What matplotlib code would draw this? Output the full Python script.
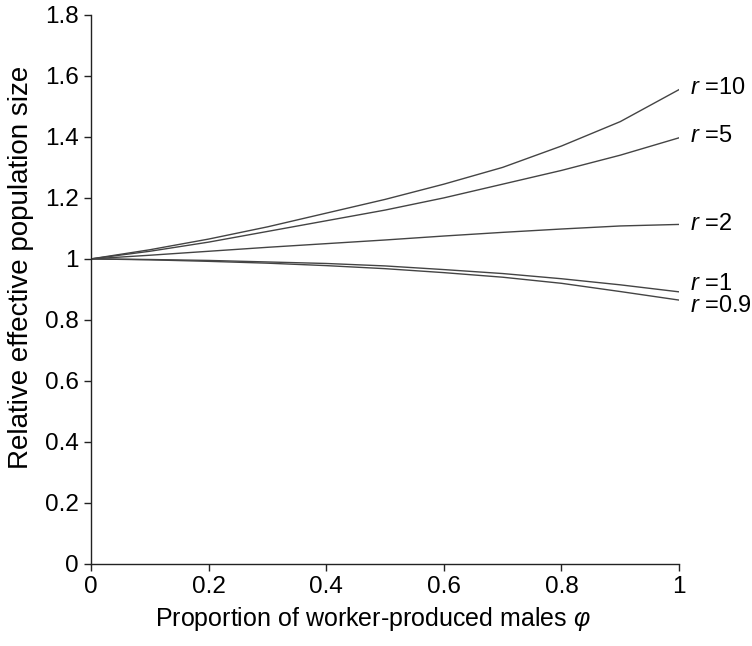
import matplotlib
matplotlib.use("Agg")
import matplotlib.pyplot as plt
from matplotlib.ticker import FuncFormatter

plt.rcParams['font.family'] = ['Liberation Sans', 'DejaVu Sans']
plt.rcParams['mathtext.fontset'] = 'custom'
plt.rcParams['mathtext.rm'] = 'Liberation Sans'
plt.rcParams['mathtext.it'] = 'Liberation Sans:italic'

# proportion of worker-produced males
phi = [0, 0.1, 0.2, 0.3, 0.4, 0.5, 0.6, 0.7, 0.8, 0.9, 1.0]

r10 = [1, 1.03, 1.065, 1.105, 1.15, 1.195, 1.245, 1.30, 1.37, 1.45, 1.555]
r5 = [1, 1.025, 1.055, 1.09, 1.125, 1.16, 1.20, 1.245, 1.29, 1.34, 1.397]
r2 = [1, 1.012, 1.025, 1.038, 1.05, 1.062, 1.075, 1.087, 1.098, 1.108, 1.113]
r1 = [1, 0.998, 0.995, 0.99, 0.985, 0.977, 0.965, 0.952, 0.935, 0.915, 0.892]
r09 = [1, 0.997, 0.992, 0.986, 0.978, 0.968, 0.955, 0.94, 0.92, 0.893, 0.865]

series = [("10", r10, 1), ("5", r5, 1), ("2", r2, 0), ("1", r1, 6), ("0.9", r09, -4)]

fig = plt.figure(figsize=(7.52, 6.46), dpi=100)
ax = fig.add_axes([0.121, 0.127, 0.782, 0.850])

for name, vals, dy in series:
    ax.plot(phi, vals, color="#444444", lw=1.0)
    ax.annotate("$r$ =" + name, xy=(phi[-1], vals[-1]), xytext=(8, dy),
                textcoords="offset points", va="center", ha="left",
                fontsize=17, annotation_clip=False)

ax.set_xlim(0, 1)
ax.set_ylim(0, 1.8)
ax.set_xticks([0, 0.2, 0.4, 0.6, 0.8, 1])
ax.set_yticks([0, 0.2, 0.4, 0.6, 0.8, 1, 1.2, 1.4, 1.6, 1.8])
fmt = FuncFormatter(lambda v, p: "%g" % round(v, 2))
ax.xaxis.set_major_formatter(fmt)
ax.yaxis.set_major_formatter(fmt)

for s in ["top", "right"]:
    ax.spines[s].set_visible(False)
for s in ["left", "bottom"]:
    ax.spines[s].set_linewidth(1.0)
    ax.spines[s].set_color("#222222")

ax.tick_params(direction="out", length=5, width=1.0, labelsize=17.5, color="#222222", pad=4)
ax.set_xlabel(r"Proportion of worker-produced males $\varphi$", fontsize=18, labelpad=4)
ax.set_ylabel("Relative effective population size", fontsize=20)
ax.xaxis.set_label_coords(0.48, -0.075)
ax.yaxis.set_label_coords(-0.097, 0.54)

fig.savefig("out.png", dpi=100)
